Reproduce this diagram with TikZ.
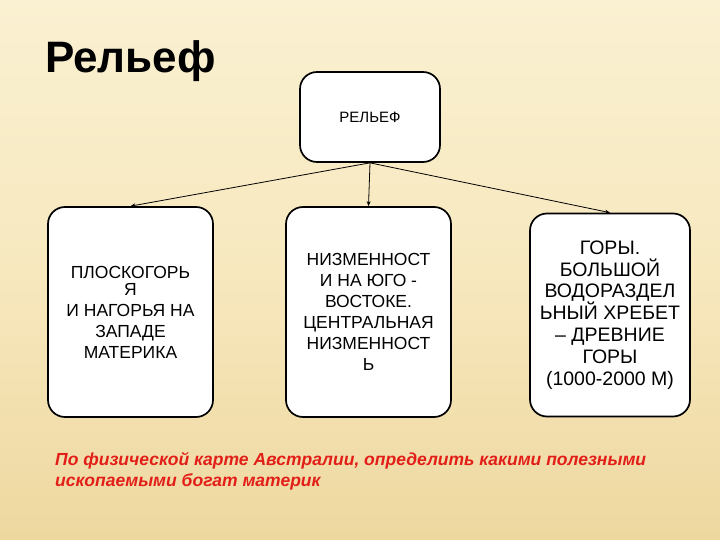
\documentclass[tikz,border=0pt]{standalone}
\usepackage{fontspec}
\setmainfont{Liberation Sans}
\usetikzlibrary{arrows.meta}
\definecolor{bgtop}{RGB}{250,241,210}
\definecolor{bgmid}{RGB}{247,232,190}
\definecolor{bgbot}{RGB}{238,216,160}
\definecolor{redtxt}{RGB}{226,30,24}
\tikzset{
  box/.style={draw=black, line width=1.7pt, rounded corners=17pt, fill=white, align=center,
    inner sep=0pt, font=\fontsize{17.5}{21}\selectfont},
  arr/.style={draw=black, line width=0.8pt, -{Stealth[length=5pt,width=4pt]}}
}
\begin{document}
\begin{tikzpicture}[x=1pt,y=-1pt]
\useasboundingbox (0,0) rectangle (720,540);
\shade[top color=bgtop, bottom color=bgbot, middle color=bgmid] (0,0) rectangle (720,540);
\node[anchor=base west, inner sep=0pt, font=\fontsize{44}{44}\selectfont\bfseries] (title) at (45,73) {Рельеф};
\node[box, minimum width=140pt, minimum height=90pt, font=\fontsize{15}{18}\selectfont] (top) at (370,117) {РЕЛЬЕФ};
\node[box, minimum width=165pt, minimum height=210pt] (left) at (130.5,312)
  {ПЛОСКОГОРЬ\\[-4pt]Я\\И НАГОРЬЯ НА\\ЗАПАДЕ\\МАТЕРИКА};
\node[box, minimum width=165pt, minimum height=210pt] (mid) at (368.5,312)
  {НИЗМЕННОСТ\\И НА ЮГО -\\ВОСТОКЕ.\\ЦЕНТРАЛЬНАЯ\\НИЗМЕННОСТ\\Ь};
\node[box, minimum width=160pt, minimum height=203pt, font=\fontsize{19.5}{21.8}\selectfont] (right) at (610,315)
  {ГОРЫ.\\БОЛЬШОЙ\\ВОДОРАЗДЕЛ\\ЬНЫЙ ХРЕБЕТ\\– ДРЕВНИЕ\\ГОРЫ\\(1000-2000 М)};
\draw[arr] (top.south) -- (left.north);
\draw[arr] (top.south) -- (mid.north);
\draw[arr] (top.south) -- (right.north);
\node[anchor=north west, inner sep=0pt, align=left, text=redtxt, font=\fontsize{17.5}{21}\selectfont\bfseries\itshape] (note) at (55,452)
  {По физической карте Австралии, определить какими полезными\\ископаемыми богат материк};
\end{tikzpicture}
\end{document}
